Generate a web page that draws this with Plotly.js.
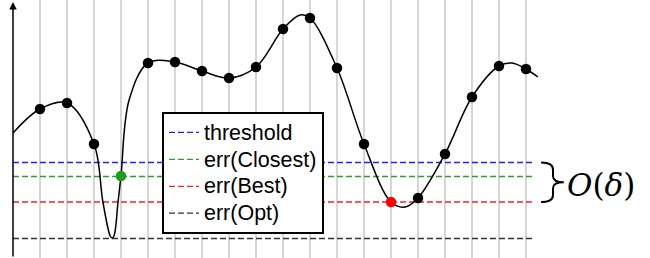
<!DOCTYPE html>
<html>
<head>
<meta charset="utf-8">
<script src="https://cdn.plot.ly/plotly-3.0.1.min.js"></script>
<style>html,body{margin:0;padding:0;background:#fff;}#chart{width:650px;height:258px;}</style>
</head>
<body>
<div id="chart"></div>
<script>
// ---- data ----
// smooth objective curve
var curveX = [0, 1, 2, 3, 3.33, 3.6, 3.667, 3.74, 3.89, 4, 4.3, 5, 6, 7, 8, 9, 10, 10.63, 11, 12, 13, 14, 14.52, 15, 16, 17, 18, 18.48, 19, 19.44];
var curveY = [12.5, 14.9, 15.5, 11.4, 5.6, 2.2, 2.0, 2.2, 5.6, 8.2, 15.8, 19.5, 19.6, 18.7, 18.0, 19.1, 22.9, 24.3, 24.0, 19.0, 11.4, 5.6, 5.1, 6.0, 10.4, 16.1, 19.2, 19.5, 18.9, 18.1];
// sampled points on the grid
var dotsX = [1, 2, 3, 4, 5, 6, 7, 8, 9, 10, 11, 12, 13, 14, 15, 16, 17, 18, 19];
var dotsY = [14.9, 15.5, 11.4, 8.2, 19.5, 19.6, 18.7, 18.0, 19.1, 22.9, 24.0, 19.0, 11.4, 5.6, 6.0, 10.4, 16.1, 19.2, 18.9];
var closestX = 4;
var bestX = 14;
// horizontal levels
var levelNames = ["threshold", "err(Closest)", "err(Best)", "err(Opt)"];
var levelValues = [9.55, 8.15, 5.6, 1.95];
var levelStart = 0, levelEnd = 19.26;
var gridTicks = dotsX;

// ---- styles ----
var levelColors = ["#2020ff", "#2ca02c", "#ff2020", "#333333"];

var traces = [];
levelNames.forEach(function (n, i) {
  traces.push({
    x: [levelStart, levelEnd], y: [levelValues[i], levelValues[i]],
    mode: "lines", name: '<span style="font-size:21.5px">' + n + '</span>',
    line: { color: levelColors[i], width: 1.3, dash: "6px,3px" },
    hoverinfo: "skip"
  });
});
traces.push({
  x: curveX, y: curveY, mode: "lines", showlegend: false,
  line: { color: "#000", width: 1.5, shape: "spline", smoothing: 1 }
});
traces.push({
  x: dotsX, y: dotsY, mode: "markers", showlegend: false,
  marker: {
    size: 10.5,
    color: dotsX.map(function (x) { return x === closestX ? "#1e9e1e" : (x === bestX ? "#ff0000" : "#000"); })
  }
});

var yTop = levelValues[0], yBot = levelValues[2], yMid = (yTop + yBot) / 2;
var bx0 = 19.56, bx1 = 20.0, bx2 = 20.4;
var bracePath = "M " + bx0 + "," + yTop +
  " Q " + bx1 + "," + yTop + " " + bx1 + "," + (yTop - 0.7) +
  " L " + bx1 + "," + (yMid + 0.6) +
  " Q " + bx1 + "," + yMid + " " + bx2 + "," + yMid +
  " Q " + bx1 + "," + yMid + " " + bx1 + "," + (yMid - 0.6) +
  " L " + bx1 + "," + (yBot + 0.7) +
  " Q " + bx1 + "," + yBot + " " + bx0 + "," + yBot;

var layout = {
  width: 650, height: 258,
  margin: { l: 13, r: 0, t: 0, b: 0, pad: 0 },
  paper_bgcolor: "#fff", plot_bgcolor: "#fff",
  showlegend: true,
  xaxis: {
    range: [0, 637 / 27], tickmode: "array", tickvals: gridTicks,
    showgrid: true, gridcolor: "#d6d6d6", gridwidth: 1.5,
    showticklabels: false, ticks: "", zeroline: false, showline: false, fixedrange: true
  },
  yaxis: {
    range: [0, 25.8], showgrid: false, zeroline: false, showline: false,
    showticklabels: false, ticks: "", fixedrange: true
  },
  legend: {
    x: (162 - 13) / 637, y: (258 - 112) / 258, xanchor: "left", yanchor: "top",
    bgcolor: "#fff", bordercolor: "#000", borderwidth: 2,
    font: { family: "Liberation Sans, Arial, sans-serif", size: 18.4, color: "#000" },
    tracegroupgap: 0, itemwidth: 30
  },
  shapes: [{
    type: "path", xref: "x", yref: "y", path: bracePath,
    line: { color: "#000", width: 2 }
  }],
  annotations: [
    {
      x: 0, y: 25.6, ax: 0, ay: 0, xref: "x", yref: "y", axref: "x", ayref: "y",
      text: "", showarrow: true, arrowhead: 2, arrowsize: 1, arrowwidth: 1.5, arrowcolor: "#000", standoff: 0
    },
    {
      x: 20.45, y: 7.3, xref: "x", yref: "y", xanchor: "left", yanchor: "middle",
      text: "<i>O</i>(<i>δ</i>)", showarrow: false,
      font: { family: "DejaVu Serif, Liberation Serif, serif", size: 31, color: "#000" }
    }
  ]
};

Plotly.newPlot("chart", traces, layout, { displayModeBar: false, staticPlot: true });
</script>
</body>
</html>
